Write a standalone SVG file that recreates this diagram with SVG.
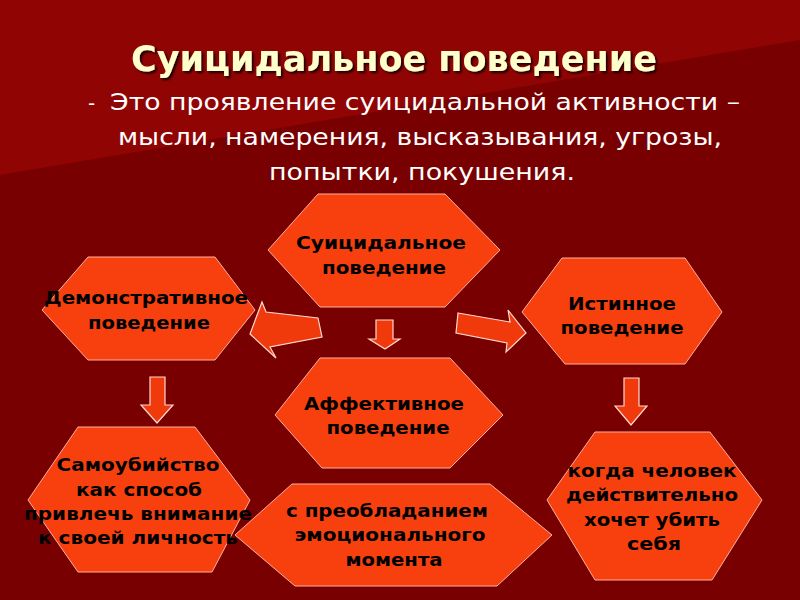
<svg xmlns="http://www.w3.org/2000/svg" width="800" height="600" viewBox="0 0 800 600">
<defs>
<filter id="sh"><feDropShadow dx="2" dy="2" stdDeviation="1" flood-color="#000" flood-opacity="0.8"/></filter>
</defs>
<style>
.hex{fill:#f8400f;stroke:#ffb0a0;stroke-width:1}
.arr{fill:#f03a0c;stroke:#ffd8d0;stroke-width:1.2}
.t{font-family:"DejaVu Sans",sans-serif;font-weight:bold;font-size:18px;fill:#000;text-anchor:middle}
.s{font-family:"DejaVu Sans",sans-serif;font-size:23px;fill:#fff;text-anchor:middle}
</style>
<rect width="800" height="600" fill="#780000"/>
<polygon points="0,0 800,0 800,40 0,175" fill="#900404"/>
<text x="394" y="71" font-family="DejaVu Sans" font-weight="bold" font-size="35" fill="#ffffcc" text-anchor="middle" filter="url(#sh)">Суицидальное поведение</text>
<text x="88" y="110" font-family="DejaVu Sans" font-size="20" fill="#fff">-</text>
<text x="425" y="110" class="s" textLength="630" lengthAdjust="spacingAndGlyphs">Это проявление суицидальной активности –</text>
<text x="420" y="145" class="s" textLength="604" lengthAdjust="spacingAndGlyphs">мысли, намерения, высказывания, угрозы,</text>
<text x="422" y="180" class="s" textLength="306" lengthAdjust="spacingAndGlyphs">попытки, покушения.</text>
<g id="connectors">
<polygon class="arr" points="318,318 322,337 270,347 276,358 250,334 262,302 266,312"/>
<polygon class="arr" points="376,320 393,320 393,339 400,339 385,349 369,339 376,339"/>
<polygon class="arr" points="458,313 510,322 508,310 526,333 506,352 507,343 456,333"/>
<polygon class="arr" points="150,377 165,377 165,405 173,405 157,423 141,405 150,405"/>
<polygon class="arr" points="624,378 639,378 639,406 647,406 631,425 615,406 624,406"/>
</g>
<g id="n1"><polygon class="hex" points="318,194 445,194 500,250 445,307 320,307 268,250"/>
<text class="t" x="381" y="249" textLength="170" lengthAdjust="spacingAndGlyphs">Суицидальное</text><text class="t" x="384" y="274" textLength="124" lengthAdjust="spacingAndGlyphs">поведение</text></g>
<g id="n2"><polygon class="hex" points="88,257 215,257 255,310 215,360 88,360 42,310"/>
<text class="t" x="146" y="304" textLength="204" lengthAdjust="spacingAndGlyphs">Демонстративное</text><text class="t" x="149" y="329" textLength="122" lengthAdjust="spacingAndGlyphs">поведение</text></g>
<g id="n3"><polygon class="hex" points="562,258 685,258 722,312 685,364 565,364 522,312"/>
<text class="t" x="622" y="310" textLength="108" lengthAdjust="spacingAndGlyphs">Истинное</text><text class="t" x="622" y="334" textLength="123" lengthAdjust="spacingAndGlyphs">поведение</text></g>
<g id="n4"><polygon class="hex" points="320,358 450,358 503,415 450,468 322,468 275,415"/>
<text class="t" x="384" y="410" textLength="160" lengthAdjust="spacingAndGlyphs">Аффективное</text><text class="t" x="388" y="434" textLength="123" lengthAdjust="spacingAndGlyphs">поведение</text></g>
<g id="n5"><polygon class="hex" points="78,427 195,427 250,500 212,572 78,572 28,500"/>
<text class="t" x="138" y="471" textLength="163" lengthAdjust="spacingAndGlyphs">Самоубийство</text><text class="t" x="139" y="496" textLength="126" lengthAdjust="spacingAndGlyphs">как способ</text><text class="t" x="138" y="520" textLength="228" lengthAdjust="spacingAndGlyphs">привлечь внимание</text><text class="t" x="138" y="544" textLength="200" lengthAdjust="spacingAndGlyphs">к своей личность</text></g>
<g id="n6"><polygon class="hex" points="292,484 490,484 552,535 497,586 295,586 235,535"/>
<text class="t" x="387" y="517" textLength="202" lengthAdjust="spacingAndGlyphs">с преобладанием</text><text class="t" x="390" y="541" textLength="191" lengthAdjust="spacingAndGlyphs">эмоционального</text><text class="t" x="394" y="566" textLength="97" lengthAdjust="spacingAndGlyphs">момента</text></g>
<g id="n7"><polygon class="hex" points="595,432 710,432 762,500 712,580 595,580 547,500"/>
<text class="t" x="652" y="477" textLength="169" lengthAdjust="spacingAndGlyphs">когда человек</text><text class="t" x="652" y="501" textLength="172" lengthAdjust="spacingAndGlyphs">действительно</text><text class="t" x="652" y="526" textLength="136" lengthAdjust="spacingAndGlyphs">хочет убить</text><text class="t" x="654" y="550" textLength="54" lengthAdjust="spacingAndGlyphs">себя</text></g>
</svg>
